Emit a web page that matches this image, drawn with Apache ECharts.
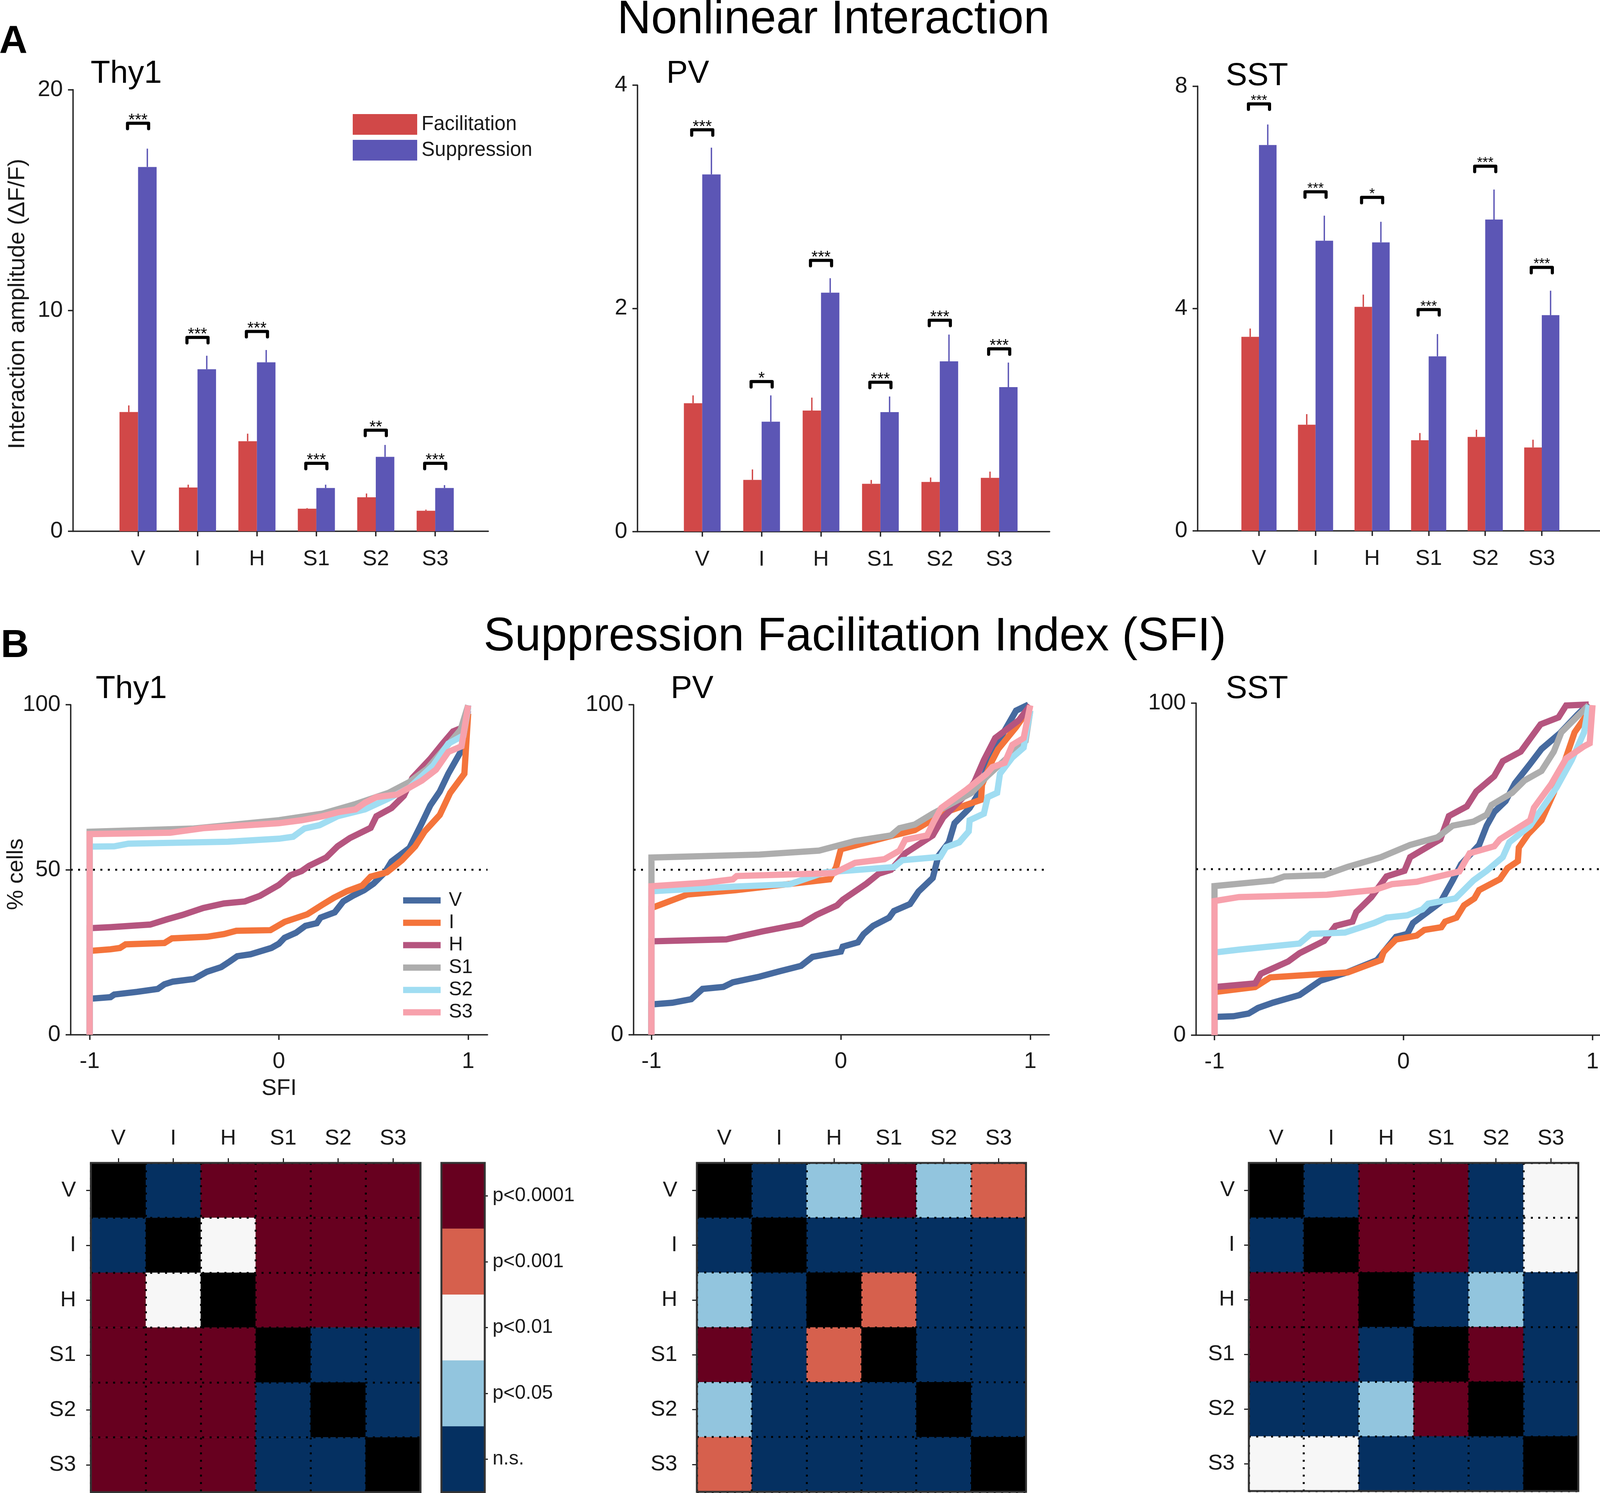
<!DOCTYPE html>
<html><head><meta charset="utf-8">
<style>html,body{margin:0;padding:0;background:#fff}#c{width:4130px;height:3822px}</style>
<script src="https://cdn.jsdelivr.net/npm/echarts@6/dist/echarts.min.js"></script>
</head><body><div id="c"></div>
<script>
// ---------- categories and tick labels ----------
const categories = ['V','I','H','S1','S2','S3'];
const pLabels = ['p<0.0001','p<0.001','p<0.01','p<0.05','n.s.'];

// ---------- A: bar values ----------
const thy1Fac    = [5.40,1.98,4.08,1.02,1.54,0.93];
const thy1FacErr = [0.30,0.13,0.34,0.03,0.17,0.05];
const thy1Sup    = [16.5,7.34,7.65,1.96,3.37,1.96];
const thy1SupErr = [0.83,0.61,0.56,0.15,0.54,0.13];
const thy1Brk    = [18.48,8.78,9.05,3.08,4.58,3.08];
const thy1Stars  = ['***','***','***','***','**','***'];

const pvFac    = [1.15,0.4625,1.084,0.428,0.444,0.481];
const pvFacErr = [0.07,0.094,0.116,0.034,0.04,0.056];
const pvSup    = [3.20,0.984,2.14,1.07,1.525,1.294];
const pvSupErr = [0.24,0.236,0.13,0.14,0.24,0.22];
const pvBrk    = [3.60,1.344,2.43,1.3375,1.894,1.6375];
const pvStars  = ['***','*','***','***','***','***'];

const sstFac    = [3.49,1.91,4.03,1.63,1.69,1.50];
const sstFacErr = [0.15,0.19,0.22,0.13,0.13,0.14];
const sstSup    = [6.94,5.22,5.19,3.14,5.60,3.88];
const sstSupErr = [0.37,0.45,0.37,0.40,0.54,0.44];
const sstBrk    = [7.68,6.10,6.00,3.98,6.56,4.74];
const sstStars  = ['***','***','*','***','***','***'];

// ---------- B: cumulative curves [SFI, % cells] ----------
const thy1V = [[-1,0],[-1,10.9],[-.89,11.4],[-.87,12.2],[-.75,13],[-.64,13.9],[-.605,15.3],[-.56,16.1],[-.45,16.9],[-.38,19.1],[-.305,20.5],[-.26,22.2],[-.22,23.8],[-.15,24.4],[-.04,26.3],[0,27.6],[.03,29.4],[.09,30.9],[.14,33],[.2,33.8],[.22,35.5],[.295,37.1],[.34,40.4],[.39,42.1],[.45,43.8],[.5,45.8],[.56,49.2],[.595,52.5],[.69,56.6],[.755,64.1],[.8,69.5],[.85,73.7],[.895,79.1],[.96,85.7],[.99,95.7],[1,99.8]];
const thy1I = [[-1,0],[-1,25.4],[-.89,25.9],[-.84,26.3],[-.81,27.4],[-.605,27.8],[-.565,29.2],[-.38,29.7],[-.29,30.5],[-.225,31.5],[-.045,31.7],[.03,34.2],[.15,36.5],[.23,39.4],[.29,41.5],[.36,43.5],[.44,45.2],[.485,47.9],[.57,49.2],[.65,52.9],[.72,57.1],[.77,61.6],[.85,66.6],[.905,73.3],[.98,79.1],[1,97.3]];
const thy1H = [[-1,0],[-1,32.3],[-.89,32.6],[-.68,33.4],[-.59,35],[-.51,36.3],[-.4,38.4],[-.29,39.8],[-.18,40.4],[-.1,42.1],[0,45.4],[.06,48.3],[.12,49.6],[.16,51.2],[.25,53.7],[.31,57.1],[.375,59.6],[.485,62.7],[.515,66.2],[.595,68.7],[.66,72.4],[.705,77.8],[.8,83.6],[.865,88.2],[.92,91.9],[.975,93.2],[1,98.2]];
const thy1S1 = [[-1,0],[-1,61.5],[-.45,62.5],[0,65],[.23,67],[.405,69.9],[.58,73.3],[.69,76.6],[.785,80.7],[.91,89],[.96,92.4],[1,99.8]];
const thy1S2 = [[-1,0],[-1,57],[-.87,57.1],[-.795,57.9],[-.27,58.5],[0,59.4],[.075,60],[.135,62.5],[.215,63.5],[.31,66.2],[.455,68.3],[.58,71.6],[.69,74.9],[.815,81.6],[.895,88.2],[.975,90.7],[1,99]];
const thy1S3 = [[-1,0],[-1,60.8],[-.575,61.2],[-.4,62.6],[0,64.1],[.12,65],[.23,66.2],[.31,67.4],[.405,68.3],[.455,70.3],[.515,72],[.625,72.8],[.755,77],[.83,80.3],[.895,85.7],[.965,87.4],[1,99.8]];

const pvV = [[-1,0],[-1,9.2],[-.89,9.7],[-.79,10.8],[-.73,13.9],[-.62,14.5],[-.57,15.9],[-.43,17.6],[-.32,19.3],[-.21,20.9],[-.15,23.6],[0,25.2],[.01,26.7],[.09,28],[.12,30.5],[.17,33],[.255,35.5],[.28,37.5],[.365,39.6],[.41,43.4],[.485,47.5],[.515,54.2],[.57,58.3],[.6,64.1],[.68,68.7],[.72,72.4],[.77,80.7],[.825,88.2],[.925,98.2],[.99,100]];
const pvI = [[-1,0],[-1,38.4],[-.81,42.5],[-.555,43.8],[-.06,47.1],[-.025,50.8],[0,56.2],[.25,60],[.39,62],[.55,67.4],[.74,71.2],[.745,75.7],[.8,83.2],[.83,86.5],[.925,93.2],[1,99.4]];
const pvH = [[-1,0],[-1,28.3],[-.605,28.9],[-.415,31.3],[-.21,33.6],[-.13,36.3],[-.02,39.2],[.01,40.9],[.135,45.8],[.2,48.8],[.265,50],[.34,55],[.485,60.4],[.54,65.8],[.64,71.6],[.705,76.6],[.755,83.2],[.815,89.9],[.94,95.3],[1,99.8]];
const pvS1 = [[-1,0],[-1,53.7],[-.43,54.6],[-.115,55.8],[.075,58.7],[.265,60.4],[.31,62.6],[.39,63.7],[.485,67],[.69,73.3],[.77,78.2],[.865,83.2],[.975,89],[1,98.2]];
const pvS2 = [[-1,0],[-1,43.5],[-.555,44.9],[-.27,45.6],[-.085,49.2],[.28,50.8],[.325,52.9],[.525,53.9],[.555,56.8],[.625,58.3],[.675,61.6],[.68,65],[.755,67],[.775,72],[.825,73.3],[.84,79.1],[.905,84],[.965,87],[1,98.2]];
const pvS3 = [[-1,0],[-1,45],[-.715,46.1],[-.57,47.1],[-.55,48.1],[-.035,49],[.075,52.1],[.23,53.2],[.31,55.8],[.34,59.1],[.455,60.4],[.49,64.5],[.53,68.7],[.66,74.1],[.77,79.1],[.8,81.1],[.865,82.4],[.905,87.8],[.965,89.9],[1,99.8]];

const sstV = [[-1,0],[-1,5.5],[-.9,5.7],[-.82,6.5],[-.77,8.2],[-.69,9.8],[-.55,12.1],[-.44,16.4],[-.3,18.9],[-.14,22.6],[-.04,29.6],[.02,30.5],[.05,33.8],[.195,40],[.26,46.6],[.305,51.5],[.4,57.3],[.44,63.1],[.48,67.2],[.54,70.5],[.59,75.9],[.67,81.7],[.73,86.2],[.825,90.8],[.92,96.5],[.98,99.8]];
const sstI = [[-1,0],[-1,13],[-.785,14.5],[-.705,17.4],[-.295,18.9],[-.12,22.6],[-.105,25.1],[-.04,28.8],[.07,30],[.11,31.7],[.2,32.5],[.22,34.2],[.28,35.4],[.32,39.1],[.375,41.2],[.4,43.7],[.51,47],[.55,50.3],[.605,52.4],[.61,56.5],[.66,60.6],[.73,64.7],[.795,73],[.86,83.7],[.905,91.2],[.965,96.1]];
const sstH = [[-1,0],[-1,14.5],[-.785,15.6],[-.755,18.5],[-.61,22.2],[-.55,24.7],[-.42,28.4],[-.36,32.9],[-.27,34.2],[-.25,37.1],[-.17,41.6],[-.09,47.8],[.005,49.5],[.035,53.6],[.195,59],[.24,66],[.335,68.9],[.385,73.4],[.48,78],[.525,82.5],[.62,85.4],[.725,93.6],[.82,95.7],[.86,99.3],[.98,99.6]];
const sstS1 = [[-1,0],[-1,44.9],[-.69,46.6],[-.63,47.8],[-.42,48.2],[-.295,50.7],[-.12,53.6],[.035,57.3],[.18,59.6],[.26,63.1],[.37,64.3],[.44,66.4],[.465,69.3],[.575,73],[.64,76.7],[.73,79.6],[.795,85.4],[.835,91.2],[.98,99.4]];
const sstS2 = [[-1,0],[-1,24.9],[-.865,25.8],[-.55,27.6],[-.49,30.5],[-.31,30.9],[-.155,33.8],[-.09,35.4],[.02,36.1],[.1,37.9],[.13,39.6],[.275,41.2],[.37,46.6],[.44,49.5],[.525,53.6],[.56,58.1],[.67,63.1],[.81,74.6],[.89,82.9],[.955,91.2],[.98,99.4]];
const sstS3 = [[-1,0],[-1,40.4],[-.87,41.6],[-.405,42.3],[-.155,43.7],[-.06,45.5],[.07,46.2],[.295,49.3],[.35,54.8],[.48,56.9],[.51,59],[.67,64.7],[.69,68.5],[.78,75.5],[.86,83.3],[.955,87],[.985,87.9],[1,99.4]];

// ---------- B: significance matrices (levels: 0 n.s. ... 4 p<0.0001, -1 diagonal) ----------
const thy1Matrix = [[-1,0,4,4,4,4],[0,-1,2,4,4,4],[4,2,-1,4,4,4],[4,4,4,-1,0,0],[4,4,4,0,-1,0],[4,4,4,0,0,-1]];
const pvMatrix   = [[-1,0,1,4,1,3],[0,-1,0,0,0,0],[1,0,-1,3,0,0],[4,0,3,-1,0,0],[1,0,0,0,-1,0],[3,0,0,0,0,-1]];
const sstMatrix  = [[-1,0,4,4,0,2],[0,-1,4,4,0,2],[4,4,-1,0,1,0],[4,4,0,-1,4,0],[0,0,1,4,-1,0],[2,2,0,0,0,-1]];
const legendLevels = [4,3,2,1,0];

// ---------- styles ----------
const FONT = '"Liberation Sans", Arial, sans-serif';
const RED = '#D14848', BLUE = '#5C56B5', INK = '#1a1a1a';
const lineColors = ['#466A9F','#F4743B','#B5557F','#ADADAD','#A0DDF2','#F7A1AC'];
const levelColors = {'-1':'#000000',0:'#053061',1:'#92C5DE',2:'#F7F7F7',3:'#D6604D',4:'#67001F'};
const axisLine = {show:true,onZero:false,lineStyle:{color:'#222',width:3.5}};
const axisTick = {show:true,length:13,lineStyle:{color:'#222',width:3.5}};

const grids=[], xAxes=[], yAxes=[], series=[];
function addGrid(l,t,r,b){grids.push({left:l,top:t,width:r-l,height:b-t});return grids.length-1;}

// ---------- bar panels ----------
const barPanels = [
 {left:187,right:1250,top:229.6,bottom:1360,xMin:-.094,xMax:6.893,yMax:20,yStep:10,barW:47.5,fac:thy1Fac,facE:thy1FacErr,sup:thy1Sup,supE:thy1SupErr,brk:thy1Brk,stars:thy1Stars,starSize:42},
 {left:1632,right:2687,top:218,bottom:1360.7,xMin:-.09,xMax:6.849,yMax:4,yStep:2,barW:47,fac:pvFac,facE:pvFacErr,sup:pvSup,supE:pvSupErr,brk:pvBrk,stars:pvStars,starSize:42},
 {left:3066,right:4108,top:220.5,bottom:1359,xMin:-.084,xMax:7.112,yMax:8,yStep:4,barW:45,fac:sstFac,facE:sstFacErr,sup:sstSup,supE:sstSupErr,brk:sstBrk,stars:sstStars,starSize:36}
];
const ticks=[1,2,3,4,5,6];
barPanels.forEach(p=>{
  const g=addGrid(p.left,p.top,p.right,p.bottom);
  xAxes.push({gridIndex:g,type:'value',min:p.xMin,max:p.xMax,splitLine:{show:false},axisLine,
    axisTick:{...axisTick,customValues:ticks},
    axisLabel:{customValues:ticks,margin:44,fontSize:56,color:INK,formatter:v=>categories[v-1]||''}});
  yAxes.push({gridIndex:g,type:'value',min:0,max:p.yMax,interval:p.yStep,splitLine:{show:false},axisLine,axisTick,
    axisLabel:{margin:26,fontSize:58,color:INK}});
  const xy=a=>a.map((v,i)=>[i+1,v]);
  series.push({name:'Facilitation',type:'bar',xAxisIndex:g,yAxisIndex:g,barWidth:p.barW,barGap:0,itemStyle:{color:RED},data:xy(p.fac)});
  series.push({name:'Suppression',type:'bar',xAxisIndex:g,yAxisIndex:g,barWidth:p.barW,barGap:0,itemStyle:{color:BLUE},data:xy(p.sup)});
  const err=(vals,errs,sign,color)=>({type:'custom',coordinateSystem:'cartesian2d',xAxisIndex:g,yAxisIndex:g,z:3,clip:false,silent:true,
    encode:{x:0,y:2},data:vals.map((v,i)=>[i+1,v,v+errs[i]]),
    renderItem:(ps,api)=>{const a=api.coord([api.value(0),api.value(1)]),b=api.coord([api.value(0),api.value(2)]);
      const x=a[0]+sign*p.barW/2;
      return {type:'line',shape:{x1:x,y1:a[1],x2:x,y2:b[1]},style:{stroke:color,lineWidth:3.5,fill:null}};}});
  series.push(err(p.fac,p.facE,-1,RED));
  series.push(err(p.sup,p.supE,1,BLUE));
  series.push({type:'custom',coordinateSystem:'cartesian2d',xAxisIndex:g,yAxisIndex:g,z:3,clip:false,silent:true,
    encode:{x:0,y:1},data:p.brk.map((v,i)=>[i+1,v]),
    renderItem:(ps,api)=>{const c=api.coord([api.value(0),api.value(1)]),w=27,leg=14;
      return {type:'group',children:[
        {type:'polyline',shape:{points:[[c[0]-w,c[1]+leg],[c[0]-w,c[1]],[c[0]+w,c[1]],[c[0]+w,c[1]+leg]]},
         style:{stroke:'#000',lineWidth:8,fill:null,lineJoin:'round',lineCap:'round'}},
        {type:'text',style:{x:c[0],y:c[1]-7,text:p.stars[ps.dataIndex],align:'center',verticalAlign:'middle',
         font:p.starSize+'px '+FONT,fill:'#000'}}
      ]};}});
});

// ---------- curve panels ----------
const linePanels=[
 {left:181,right:1248,top:1804,bottom:2649,yStep:50,xName:'SFI',curves:[thy1V,thy1I,thy1H,thy1S1,thy1S2,thy1S3]},
 {left:1622,right:2686,top:1804,bottom:2649,yStep:100,xName:'',curves:[pvV,pvI,pvH,pvS1,pvS2,pvS3]},
 {left:3062,right:4130,top:1800,bottom:2650,yStep:100,xName:'',curves:[sstV,sstI,sstH,sstS1,sstS2,sstS3]}
];
const lineNames=categories;
const SFI_TICKS=[-1,0,1];
linePanels.forEach((p,k)=>{
  const g=addGrid(p.left,p.top,p.right,p.bottom);
  const tx=[[484.5,714],[484.9,2152.6],[483.9,3593]][k];
  const xMin=(p.left-tx[1])/tx[0], xMax=(p.right-tx[1])/tx[0];
  xAxes.push({gridIndex:g,type:'value',min:xMin,max:xMax,splitLine:{show:false},axisLine,
    axisTick:{...axisTick,customValues:SFI_TICKS},
    axisLabel:{customValues:SFI_TICKS,margin:40,fontSize:58,color:INK},
    name:p.xName,nameLocation:'middle',nameGap:109,nameTextStyle:{fontSize:58,color:INK}});
  yAxes.push({gridIndex:g,type:'value',min:0,max:100,interval:p.yStep,splitLine:{show:false},axisLine,axisTick,
    axisLabel:{margin:26,fontSize:58,color:INK}});
  series.push({type:'line',xAxisIndex:g,yAxisIndex:g,symbol:'none',silent:true,z:1,
    lineStyle:{color:'#000',width:5,type:[5,14]},data:[[xMin,50],[xMax,50]]});
  p.curves.forEach((c,i)=>series.push({name:lineNames[i],type:'line',xAxisIndex:g,yAxisIndex:g,symbol:'none',z:2+i*0.01,clip:false,
    color:lineColors[i],itemStyle:{color:lineColors[i]},lineStyle:{color:lineColors[i],width:16,join:'miter',cap:'butt'},data:c}));
});

// ---------- matrices ----------
const matPanels=[
 {left:232.6,right:1076.5,top:2977,bottom:3820,m:thy1Matrix,yMargin:38},
 {left:1784,right:2626.6,top:2977,bottom:3819,m:pvMatrix,yMargin:50},
 {left:3197,right:4040.5,top:2977,bottom:3817,m:sstMatrix,yMargin:36}
];
const cellTick={show:true,alignWithLabel:true,length:12,lineStyle:{color:'#222',width:3}};
matPanels.forEach(p=>{
  const g=addGrid(p.left,p.top,p.right,p.bottom);
  const split={show:true,interval:0,lineStyle:{color:'#000',width:5,type:[5,14]}};
  xAxes.push({gridIndex:g,type:'category',position:'top',data:categories,z:5,axisLine:{show:false},axisTick:cellTick,splitLine:split,
    axisLabel:{interval:0,margin:34,fontSize:56,color:INK}});
  yAxes.push({gridIndex:g,type:'category',inverse:true,data:categories,z:5,axisLine:{show:false},axisTick:cellTick,splitLine:split,
    axisLabel:{interval:0,margin:p.yMargin,fontSize:56,color:INK}});
  const data=[];
  p.m.forEach((row,r)=>row.forEach((lev,c)=>data.push({value:[c,r,lev],itemStyle:{color:levelColors[lev]}})));
  series.push({type:'heatmap',xAxisIndex:g,yAxisIndex:g,silent:true,data});
  grids[g].show=true;grids[g].backgroundColor='transparent';grids[g].borderColor='#333';grids[g].borderWidth=5;grids[g].z=6;
});
// colour key
{
  const g=addGrid(1130,2977,1241,3820);
  xAxes.push({gridIndex:g,type:'category',data:['key'],axisLine:{show:false},axisTick:{show:false},axisLabel:{show:false},splitLine:{show:false}});
  yAxes.push({gridIndex:g,type:'category',inverse:true,position:'right',data:pLabels,axisLine:{show:false},
    axisTick:{show:true,alignWithLabel:true,length:8,lineStyle:{color:'#222',width:3}},splitLine:{show:false},
    axisLabel:{interval:0,margin:20,fontSize:50,color:INK}});
  series.push({type:'heatmap',xAxisIndex:g,yAxisIndex:g,silent:true,
    data:legendLevels.map((lev,r)=>({value:[0,r,lev],itemStyle:{color:levelColors[lev]}}))});
  grids[g].show=true;grids[g].backgroundColor='transparent';grids[g].borderColor='#333';grids[g].borderWidth=5;grids[g].z=6;
}

// ---------- free text ----------
function txt(text,x,base,fs,opt={}){
  return {type:'text',x,y:base-.29*fs,rotation:opt.rot||0,z:20,silent:true,
    style:{text,font:(opt.bold?'bold ':'')+fs+'px '+FONT,fill:'#000',align:opt.align||'left',verticalAlign:'middle'}};
}
const graphicEls=[
 txt('Nonlinear Interaction',1580,87,120),
 txt('Suppression Facilitation Index (SFI)',1238,1667,120),
 txt('A',-2,137,100,{bold:true}),
 txt('B',2,1683,100,{bold:true}),
 txt('Thy1',232,213,82), txt('PV',1706,213,82), txt('SST',3138,219,82),
 txt('Thy1',245,1788,82), txt('PV',1717,1788,82), txt('SST',3138,1788,82),
 {type:'text',x:45,y:778,rotation:Math.PI/2,z:20,silent:true,style:{text:'Interaction amplitude (ΔF/F)',font:'60px '+FONT,fill:INK,align:'center',verticalAlign:'middle'}},
 {type:'text',x:42,y:2238,rotation:Math.PI/2,z:20,silent:true,style:{text:'% cells',font:'58px '+FONT,fill:INK,align:'center',verticalAlign:'middle'}}
];

const chart=echarts.init(document.getElementById('c'),null,{renderer:'canvas',width:4130,height:3822,devicePixelRatio:1});
chart.setOption({
  animation:false,backgroundColor:'#fff',textStyle:{fontFamily:FONT},
  grid:grids,xAxis:xAxes,yAxis:yAxes,series,graphic:{elements:graphicEls},
  legend:[
   {data:['Facilitation','Suppression'],orient:'vertical',left:898,top:287,itemWidth:165,itemHeight:53,itemGap:13,icon:'rect',
    selectedMode:false,textStyle:{fontSize:51,color:INK,padding:[0,0,0,6]}},
   {data:lineNames,orient:'vertical',left:1027,top:2275,itemWidth:96,itemHeight:16,itemGap:7.3,icon:'rect',
    selectedMode:false,textStyle:{fontSize:50,lineHeight:50,color:INK,padding:[0,0,0,16]}}
  ]
});
</script></body></html>
